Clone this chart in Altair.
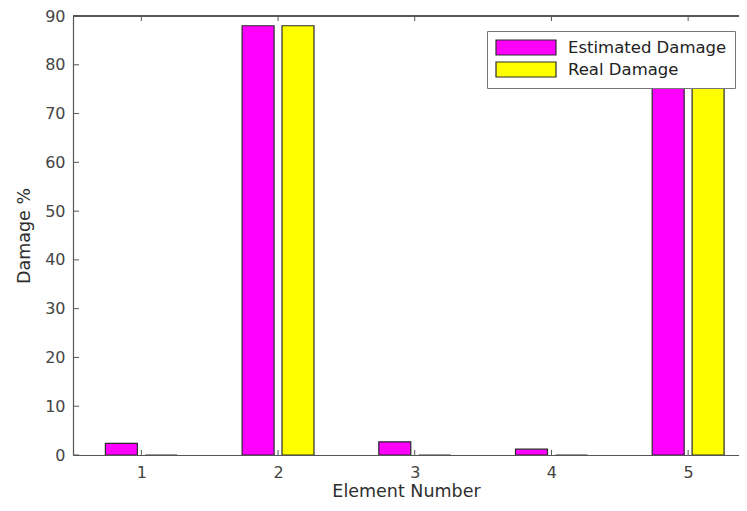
import altair as alt
import pandas as pd

# ---- data ----
elements = [1, 2, 3, 4, 5]
estimated_damage = [2.4, 88.0, 2.7, 1.2, 82.0]
real_damage = [0.0, 88.0, 0.0, 0.0, 82.0]
series_names = ["Estimated Damage", "Real Damage"]
series_colors = ["#ff00ff", "#ffff00"]
y_ticks = [0, 10, 20, 30, 40, 50, 60, 70, 80, 90]

rows = []
for e, est, real in zip(elements, estimated_damage, real_damage):
    rows.append({"element": e, "series": series_names[0], "value": est})
    rows.append({"element": e, "series": series_names[1], "value": real})
df = pd.DataFrame(rows)

W, H = 666, 439
FONT = "DejaVu Sans"
AX = "#555555"

xscale = alt.Scale(domain=[0.5, 5.372], nice=False, zero=False, padding=0)
yscale = alt.Scale(domain=[0, 90], nice=False, padding=0)

x_axis = alt.Axis(
    values=elements, title="Element Number", ticks=False, grid=False,
    labelPadding=9, titlePadding=2, format="d", titleFontSize=17.5,
)
y_axis = alt.Axis(
    values=y_ticks, title="Damage %", ticks=False, grid=False,
    labelPadding=8, titlePadding=11, titleFontSize=17.5,
)

bars = (
    alt.Chart(df)
    .transform_calculate(
        x0="datum.element + (datum.series == 'Estimated Damage' ? -0.263 : 0.029)",
        base="0",
    )
    .transform_calculate(x1="datum.x0 + 0.234")
    .mark_bar(stroke="#2b2b2b", strokeWidth=1.2, clip=True, cornerRadius=0)
    .encode(
        x=alt.X("x0:Q", scale=xscale, axis=x_axis),
        x2="x1:Q",
        y=alt.Y("value:Q", scale=yscale, axis=y_axis),
        y2="base:Q",
        color=alt.Color(
            "series:N",
            scale=alt.Scale(domain=series_names, range=series_colors),
            legend=alt.Legend(
                title=None, orient="none", legendX=414, legendY=15,
                symbolType="M-1,-1L7,-1L7,1L-1,1Z", symbolSize=225,
                symbolStrokeColor="#2b2b2b", symbolStrokeWidth=1.2, symbolOpacity=1,
                labelOffset=56, labelFont=FONT, labelFontSize=16.5, labelColor="#222222",
                fillColor="white", strokeColor="#777777", padding=8, rowPadding=1,
                labelLimit=0,
            ),
        ),
    )
)

tick_df = pd.DataFrame({"value": y_ticks})
el_df = pd.DataFrame({"x0": elements})

y_tick_marks = alt.Chart(tick_df).mark_rule(color=AX, strokeWidth=1).encode(
    y=alt.Y("value:Q", scale=yscale, axis=y_axis), x=alt.value(0), x2=alt.value(6)
)
x_tick_bottom = alt.Chart(el_df).mark_rule(color=AX, strokeWidth=1).encode(
    x=alt.X("x0:Q", scale=xscale, axis=x_axis), y=alt.value(H - 5), y2=alt.value(H)
)
x_tick_top = alt.Chart(el_df).mark_rule(color=AX, strokeWidth=1).encode(
    x=alt.X("x0:Q", scale=xscale, axis=x_axis), y=alt.value(0), y2=alt.value(5)
)
top_border = alt.Chart(el_df).mark_rule(color=AX, strokeWidth=1.2).encode(
    x=alt.value(0), x2=alt.value(W), y=alt.value(0)
)

chart = (
    alt.layer(bars, y_tick_marks, x_tick_bottom, x_tick_top, top_border)
    .properties(
        width=W, height=H,
        autosize=alt.AutoSizeParams(type="none"),
        padding={"left": 65, "top": 8, "right": 0, "bottom": 45},
        background="white",
    )
    .configure_view(stroke=None)
    .configure_axis(
        domainColor=AX, domainWidth=1.2, labelFont=FONT, labelFontSize=16,
        labelColor="#444444", titleFont=FONT,
        titleColor="#2e2e2e", titleFontWeight="normal",
    )
)

chart.save("out.html", embed_options={"renderer": "svg", "actions": False})
